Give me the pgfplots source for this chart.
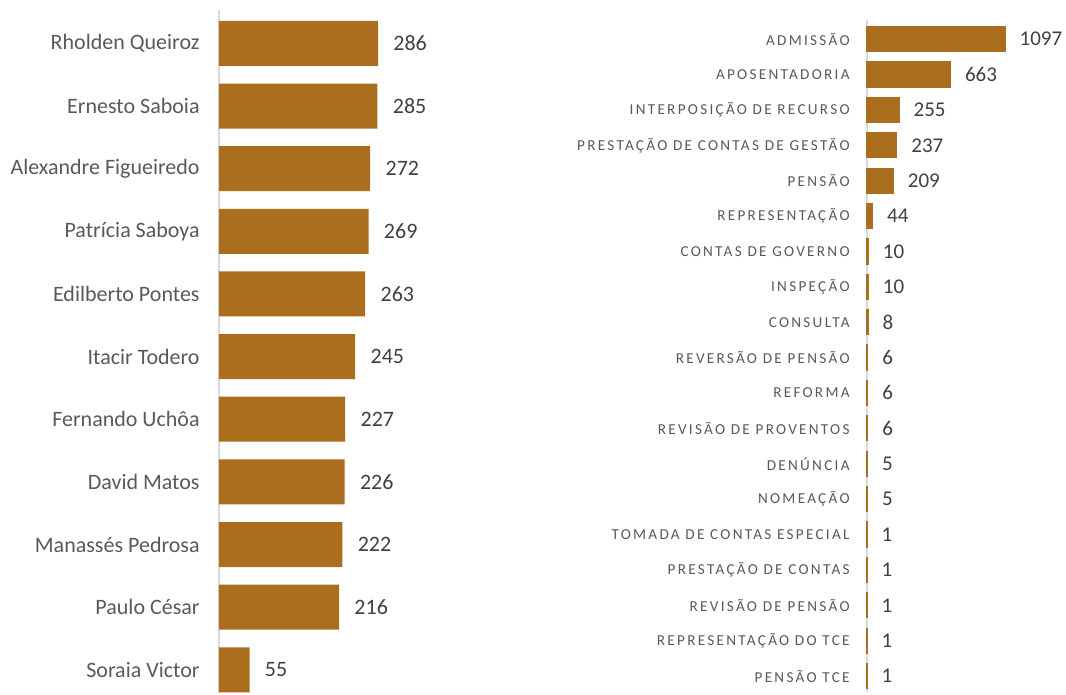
\documentclass[border=0pt]{standalone}
\usepackage{fontspec}
\setmainfont{Carlito}
\newfontfamily\capsfont[LetterSpace=15]{Carlito}
\usepackage{pgfplots}
\pgfplotsset{compat=1.18}
\definecolor{barc}{RGB}{171,109,30}
\definecolor{lab}{RGB}{89,89,89}
\definecolor{val}{RGB}{64,64,64}
\definecolor{axc}{RGB}{217,217,217}
\pgfplotsset{
  hbars/.style={
    scale only axis, anchor=south west, clip=false,
    xbar, xmin=0, y dir=reverse,
    axis x line=none, axis y line*=left,
    y axis line style={draw=axc, line width=0.8pt},
    major tick length=0pt, ytick style={draw=none}, xtick=\empty,
    yticklabel style={inner sep=0pt, color=lab, anchor=east},
    /pgf/number format/assume math mode=true,
    /pgf/number format/1000 sep={},
    nodes near coords, nodes near coords align=horizontal,
    every node near coord/.append style={color=val, anchor=west, inner sep=0pt},
  }
}
\begin{document}
\begin{tikzpicture}
\useasboundingbox (0,0) rectangle (533pt,347.5pt);
\begin{axis}[hbars, at={(109.5pt,1pt)}, width=97.3pt, height=341.5pt,
  xmax=350, ymin=-0.533, ymax=10.37, bar width=22.5pt,
  ytick={0,...,10},
  yticklabels={Rholden Queiroz, Ernesto Saboia, Alexandre Figueiredo, Patrícia Saboya, Edilberto Pontes, Itacir Todero, Fernando Uchôa, David Matos, Manassés Pedrosa, Paulo César, Soraia Victor},
  yticklabel style={font=\fontsize{11}{13}\selectfont, xshift=-9.5pt},
  every node near coord/.append style={font=\fontsize{11}{13}\selectfont, xshift=7.5pt},
]
\addplot[fill=barc, draw=none] coordinates {
(286,0) (285,1) (272,2) (269,3) (263,4) (245,5) (227,6) (226,7) (222,8) (216,9) (55,10)};
\end{axis}
\begin{axis}[hbars, at={(433.5pt,1.5pt)}, width=75.5pt, height=336pt,
  xmax=1200, ymin=-0.54, ymax=18.45, bar width=12.5pt,
  ytick={0,...,18},
  yticklabels={ADMISSÃO, APOSENTADORIA, INTERPOSIÇÃO DE RECURSO, PRESTAÇÃO DE CONTAS DE GESTÃO, PENSÃO, REPRESENTAÇÃO, CONTAS DE GOVERNO, INSPEÇÃO, CONSULTA, REVERSÃO DE PENSÃO, REFORMA, REVISÃO DE PROVENTOS, DENÚNCIA, NOMEAÇÃO, TOMADA DE CONTAS ESPECIAL, PRESTAÇÃO DE CONTAS, REVISÃO DE PENSÃO, REPRESENTAÇÃO DO TCE, PENSÃO TCE},
  yticklabel style={font=\capsfont\fontsize{7.6}{9}\selectfont, xshift=-8.5pt},
  every node near coord/.append style={font=\fontsize{10.5}{12}\selectfont, xshift=7pt},
]
\addplot[fill=barc, draw=barc, line width=0.6pt] coordinates {
(1097,0) (663,1) (255,2) (237,3) (209,4) (44,5) (10,6) (10,7) (8,8) (6,9) (6,10) (6,11) (5,12) (5,13) (1,14) (1,15) (1,16) (1,17) (1,18)};
\end{axis}
\end{tikzpicture}
\end{document}
